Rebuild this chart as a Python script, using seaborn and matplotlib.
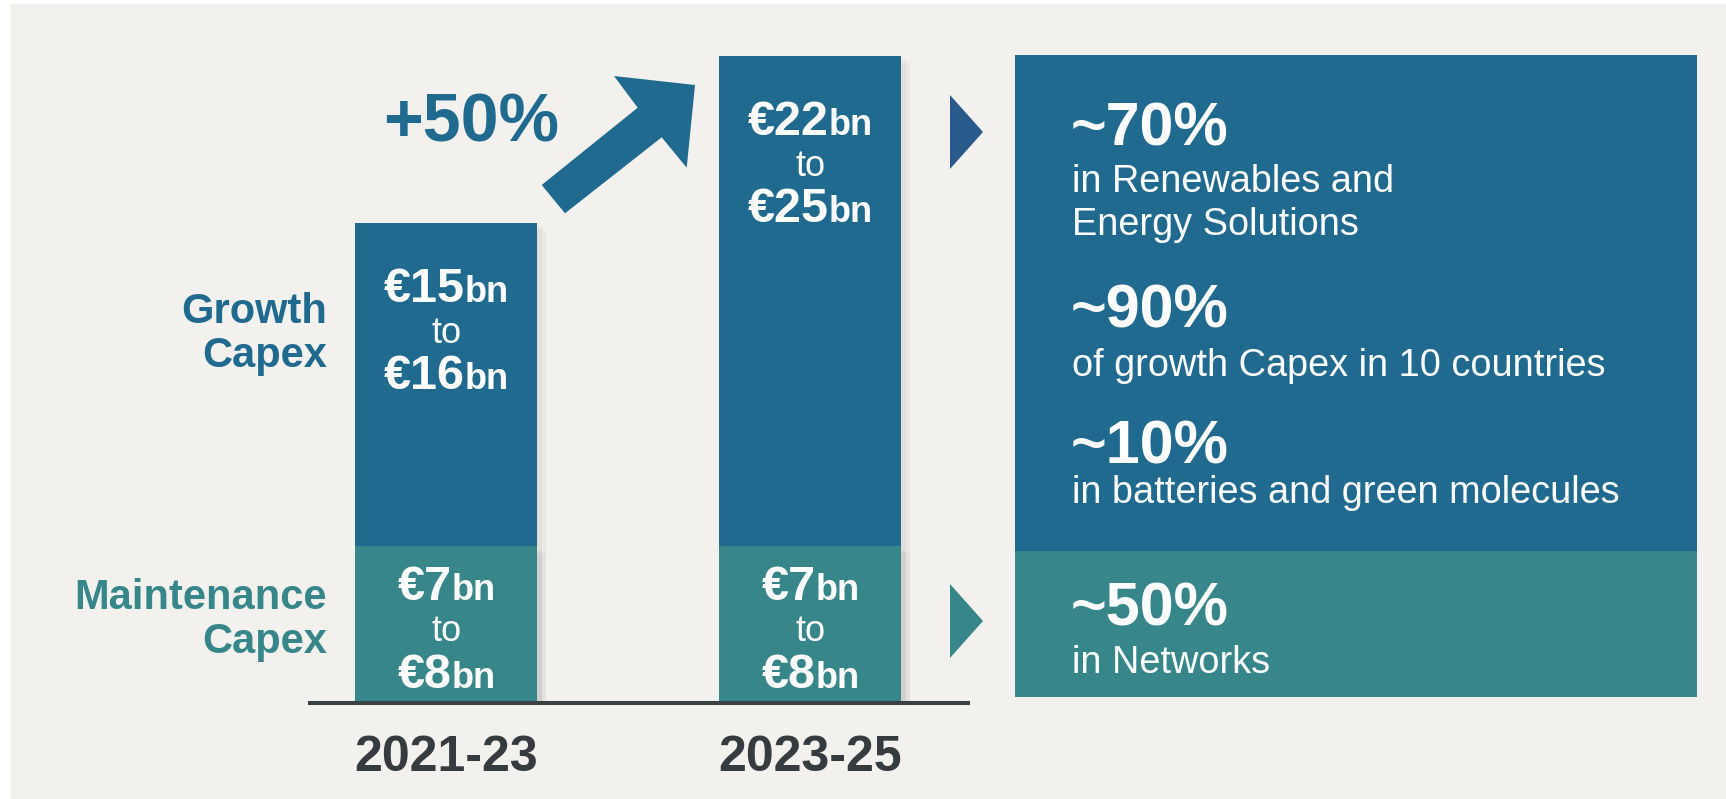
import numpy as np
import pandas as pd
import seaborn as sns
import matplotlib.pyplot as plt
import matplotlib.patheffects as pe
from matplotlib.patches import Polygon, Rectangle

# data (EUR bn, ranges)
periods = ['2021-23', '2023-25']
growth_low = [15, 22]
growth_high = [16, 25]
maint_low = [7, 7]
maint_high = [8, 8]

change_label = '+50%'
share_values = ['~70%', '~90%', '~10%', '~50%']
share_notes = [['in Renewables and', 'Energy Solutions'],
               ['of growth Capex in 10 countries'],
               ['in batteries and green molecules'],
               ['in Networks']]

BLUE = '#1f6a8e'
TEAL = '#37868a'
TRI_BLUE = '#285b8c'
DARK = '#353b3e'
BG = '#f2f1ee'

plt.rcParams['font.family'] = ['Liberation Sans', 'DejaVu Sans']

df = pd.DataFrame({'period': periods,
                   'growth': [(a + b) / 2 for a, b in zip(growth_low, growth_high)],
                   'maint': [(a + b) / 2 for a, b in zip(maint_low, maint_high)]})
df['total'] = df['growth'] + df['maint']

W, H = 1726, 799
fig = plt.figure(figsize=(W / 100, H / 100), dpi=100, facecolor='white')

# overlay in pixel coords for the slide decoration
ov = fig.add_axes([0, 0, 1, 1], zorder=0)
ov.set_xlim(0, W)
ov.set_ylim(H, 0)
ov.axis('off')
ov.add_patch(Rectangle((11, 4), W - 11, H - 4, color=BG, zorder=0))

# bar axes
ax = fig.add_axes([310 / W, 96 / H, 658 / W, 703 / H], zorder=1)
ax.patch.set_alpha(0)
sns.barplot(data=df, x='period', y='total', color=BLUE, width=0.5, saturation=1,
            linewidth=0, ax=ax)
sns.barplot(data=df, x='period', y='maint', color=TEAL, width=0.5, saturation=1,
            linewidth=0, ax=ax)
for p in ax.patches:
    p.set_path_effects([pe.SimplePatchShadow(offset=(3, -3), shadow_rgbFace='#888888', alpha=0.10),
                        pe.SimplePatchShadow(offset=(6, -5), shadow_rgbFace='#888888', alpha=0.07),
                        pe.Normal()])
ax.set_xlim(-0.375, 1.433)
ax.set_ylim(0, 33.68)
ax.set_xlabel('')
ax.set_ylabel('')
ax.set_yticks([])
for s in ['top', 'left', 'right']:
    ax.spines[s].set_visible(False)
ax.spines['bottom'].set_linewidth(2.9)
ax.spines['bottom'].set_color('#3a4043')
ax.tick_params(axis='x', length=0, pad=23, labelsize=36, labelcolor=DARK)
for t in ax.get_xticklabels():
    t.set_fontweight('bold')

# labels inside bars
pairs = []
def bar_label(x, y, dy, big, small):
    a = ax.annotate(big, (x, y), xytext=(0, dy), textcoords='offset pixels', ha='right',
                    va='baseline', fontsize=35, fontweight='bold', color='white')
    b = ax.annotate(small, (x, y), xytext=(0, dy), textcoords='offset pixels', ha='left',
                    va='baseline', fontsize=26, fontweight='bold', color='white')
    pairs.append((a, b, dy))

for i, row in df.iterrows():
    top = row['total']
    bar_label(i, top, -79, f'€{growth_low[i]}', 'bn')
    ax.annotate('to', (i, top), xytext=(0, -120), textcoords='offset pixels', ha='center',
                va='baseline', fontsize=26, color='white')
    bar_label(i, top, -166, f'€{growth_high[i]}', 'bn')
    mtop = row['maint']
    bar_label(i, mtop, -54, f'€{maint_low[i]}', 'bn')
    ax.annotate('to', (i, mtop), xytext=(0, -95), textcoords='offset pixels', ha='center',
                va='baseline', fontsize=26, color='white')
    bar_label(i, mtop, -142, f'€{maint_high[i]}', 'bn')

fig.canvas.draw()
r = fig.canvas.get_renderer()
for a, b, dy in pairs:
    wa = a.get_window_extent(r).width
    wb = b.get_window_extent(r).width
    shift = (wa - wb) / 2
    a.xyann = (shift, dy)
    b.xyann = (shift, dy)

# side labels
ov.text(327, 323, 'Growth', ha='right', va='baseline', fontsize=30, fontweight='bold', color=BLUE)
ov.text(327, 367, 'Capex', ha='right', va='baseline', fontsize=30, fontweight='bold', color=BLUE)
ov.text(327, 609, 'Maintenance', ha='right', va='baseline', fontsize=30, fontweight='bold', color=TEAL)
ov.text(327, 653, 'Capex', ha='right', va='baseline', fontsize=30, fontweight='bold', color=TEAL)

# +50% and arrow
ov.text(471, 142, change_label, ha='center', va='baseline', fontsize=49, fontweight='bold', color=BLUE)
arrow = [(541.7, 185), (637.7, 107.7), (614, 76), (695, 85), (686.7, 167.7), (661.7, 137.3), (565, 213.3)]
ov.add_patch(Polygon(arrow, closed=True, color=BLUE, lw=0, zorder=2))

# pointers
ov.add_patch(Polygon([(950, 95), (983, 132), (950, 169)], closed=True, color=TRI_BLUE, lw=0, zorder=2))
ov.add_patch(Polygon([(950, 584), (983, 621), (950, 658)], closed=True, color=TEAL, lw=0, zorder=2))

# right info panel
ov.add_patch(Rectangle((1015, 55), 682, 496, color=BLUE, lw=0, zorder=1))
ov.add_patch(Rectangle((1015, 551), 682, 146, color=TEAL, lw=0, zorder=1))

value_base = [145, 327, 463, 626]
note_base = [[192, 235], [376], [503], [673]]
for val, vy, notes, nys in zip(share_values, value_base, share_notes, note_base):
    ov.text(1071, vy, val, ha='left', va='baseline', fontsize=44, fontweight='bold', color='white', zorder=3)
    for line, ny in zip(notes, nys):
        ov.text(1072, ny, line, ha='left', va='baseline', fontsize=27.3, color='white', zorder=3)

fig.savefig('out.png', dpi=100, facecolor='white')
